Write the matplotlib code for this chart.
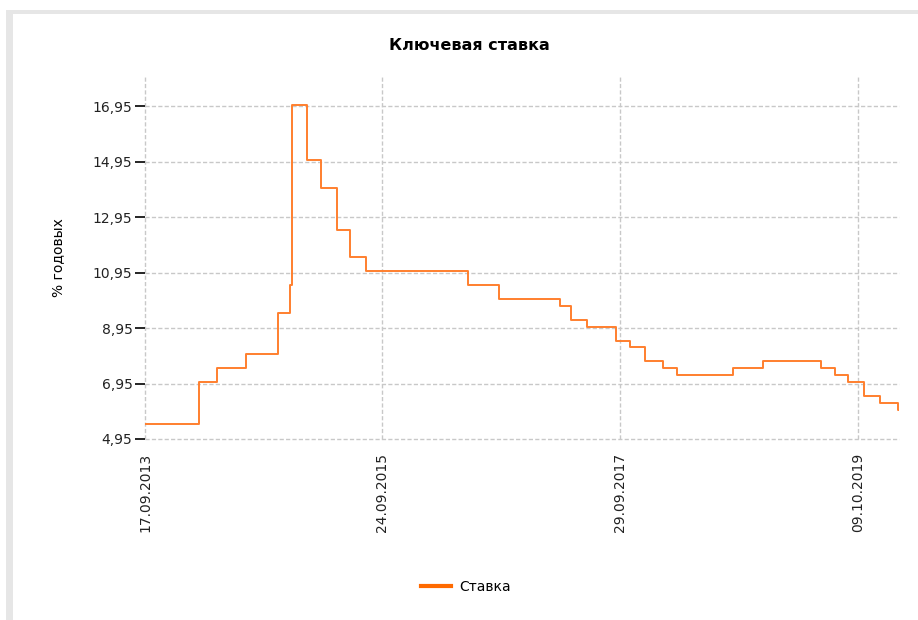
import matplotlib
matplotlib.use('Agg')
import matplotlib.pyplot as plt
import matplotlib.dates as mdates
from matplotlib.patches import Rectangle
import pandas as pd

# Key rate history (date of change, % per year)
change_dates = ['17.09.2013', '03.03.2014', '28.04.2014', '28.07.2014', '05.11.2014',
                '12.12.2014', '16.12.2014', '02.02.2015', '16.03.2015', '05.05.2015',
                '16.06.2015', '03.08.2015', '14.06.2016', '19.09.2016', '27.03.2017',
                '02.05.2017', '19.06.2017', '18.09.2017', '30.10.2017', '18.12.2017',
                '12.02.2018', '26.03.2018', '17.09.2018', '17.12.2018', '17.06.2019',
                '29.07.2019', '09.09.2019', '28.10.2019', '16.12.2019', '10.02.2020']
rates = [5.5, 7.0, 7.5, 8.0, 9.5,
         10.5, 17.0, 15.0, 14.0, 12.5,
         11.5, 11.0, 10.5, 10.0, 9.75,
         9.25, 9.0, 8.5, 8.25, 7.75,
         7.5, 7.25, 7.5, 7.75, 7.5,
         7.25, 7.0, 6.5, 6.25, 6.0]
end_date = '13.02.2020'

x_tick_dates = ['17.09.2013', '24.09.2015', '29.09.2017', '09.10.2019']
y_ticks = [4.95, 6.95, 8.95, 10.95, 12.95, 14.95, 16.95]

dates = pd.to_datetime(change_dates + [end_date], format='%d.%m.%Y')
values = rates + [rates[-1]]
xt = pd.to_datetime(x_tick_dates, format='%d.%m.%Y')

plt.rcParams['font.family'] = ['DejaVu Sans']

fig = plt.figure(figsize=(9.18, 6.2), dpi=100)
ax = fig.add_axes([145 / 918, 1 - 439 / 620, (899 - 145) / 918, (439 - 77) / 620])

# light grey frame (top and left edge of the screenshot)
fig.add_artist(Rectangle((6 / 918, 1 - 14 / 620), 1, 4 / 620, transform=fig.transFigure,
                         color='#e6e6e6', lw=0))
fig.add_artist(Rectangle((6 / 918, 0), 7 / 918, 1 - 10 / 620, transform=fig.transFigure,
                         color='#e6e6e6', lw=0))

ax.step(dates, values, where='post', color='#ff7f2e', lw=1.4, label='Ставка', zorder=3)

ax.set_xlim(dates[0], dates[-1])
ax.set_ylim(4.95, 18.0)
ax.set_xticks(xt)
ax.set_xticklabels(x_tick_dates, rotation=90, fontsize=10, color='#222222')
ax.set_yticks(y_ticks)
ax.set_yticklabels([f'{v:.2f}'.replace('.', ',') for v in y_ticks], fontsize=10, color='#222222')
ax.tick_params(axis='x', length=0, pad=10)
ax.tick_params(axis='y', length=7, width=1.2, color='black', pad=2)

ax.grid(True, color='#c8c8c8', linestyle=(0, (3, 1.6)), lw=1)
for gl in ax.get_xgridlines() + ax.get_ygridlines():
    gl.set_clip_on(False)
for s in ax.spines.values():
    s.set_visible(False)

ax.set_ylabel('% годовых', fontsize=10, labelpad=20)
fig.text(469 / 918, 1 - 46 / 620, 'Ключевая ставка', ha='center', va='center',
         fontsize=11.5, fontweight='bold')

fig.legend(loc='center', bbox_to_anchor=(466 / 918, 1 - 587 / 620), frameon=False,
           fontsize=10, handlelength=2.2, handletextpad=0.6)
leg_line = fig.legends[0].get_lines()[0]
leg_line.set_color('#ff6a00')
leg_line.set_linewidth(3)

fig.savefig('out.png', dpi=100)
